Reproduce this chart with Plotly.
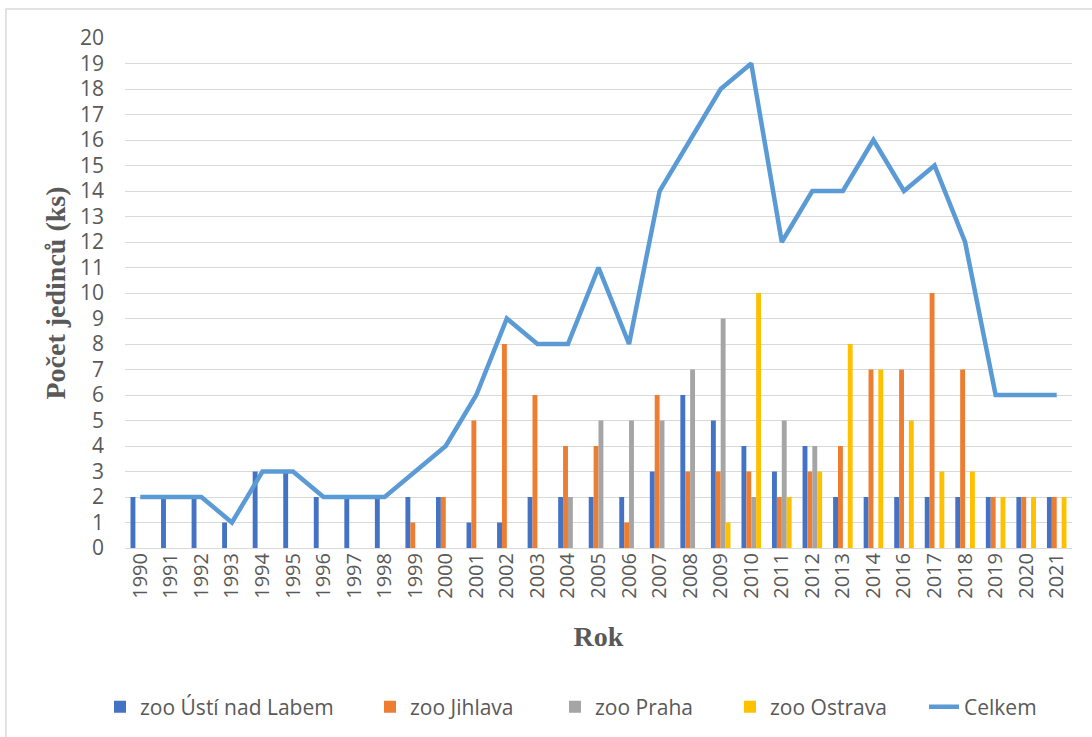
import plotly.graph_objects as go

years = ["1990", "1991", "1992", "1993", "1994", "1995", "1996", "1997", "1998", "1999",
         "2000", "2001", "2002", "2003", "2004", "2005", "2006", "2007", "2008", "2009",
         "2010", "2011", "2012", "2013", "2014", "2016", "2017", "2018", "2019", "2020", "2021"]

usti =    [2, 2, 2, 1, 3, 3, 2, 2, 2, 2, 2, 1, 1, 2, 2, 2, 2, 3, 6, 5, 4, 3, 4, 2, 2, 2, 2, 2, 2, 2, 2]
jihlava = [0, 0, 0, 0, 0, 0, 0, 0, 0, 1, 2, 5, 8, 6, 4, 4, 1, 6, 3, 3, 3, 2, 3, 4, 7, 7, 10, 7, 2, 2, 2]
praha =   [0, 0, 0, 0, 0, 0, 0, 0, 0, 0, 0, 0, 0, 0, 2, 5, 5, 5, 7, 9, 2, 5, 4, 0, 0, 0, 0, 0, 0, 0, 0]
ostrava = [0, 0, 0, 0, 0, 0, 0, 0, 0, 0, 0, 0, 0, 0, 0, 0, 0, 0, 0, 1, 10, 2, 3, 8, 7, 5, 3, 3, 2, 2, 2]
celkem =  [2, 2, 2, 1, 3, 3, 2, 2, 2, 3, 4, 6, 9, 8, 8, 11, 8, 14, 16, 18, 19, 12, 14, 14, 16, 14, 15, 12, 6, 6, 6]

series_names = ["zoo Ústí nad Labem", "zoo Jihlava", "zoo Praha", "zoo Ostrava"]
series_values = [usti, jihlava, praha, ostrava]
series_colors = ["#4472C4", "#ED7D31", "#A5A5A5", "#FFC000"]

W, H = 1092, 737
L, R, T, B = 125, 20, 38, 189
pw, ph = W - L - R, H - T - B


def px(x):
    return (x - L) / pw


def py(y):
    return (H - B - y) / ph


legend_ids = ["legend", "legend2", "legend3", "legend4", "legend5"]
legend_text_x = [140, 410, 595, 770, 964]

fig = go.Figure()
for i, (name, vals, col) in enumerate(zip(series_names, series_values, series_colors)):
    fig.add_trace(go.Bar(x=years, y=vals, name=name, legend=legend_ids[i],
                         marker=dict(color=col, line=dict(width=0))))

fig.add_trace(go.Scatter(x=years, y=celkem, name="Celkem", mode="lines", legend=legend_ids[4],
                         line=dict(color="#5B9BD5", width=4.5)))

legend_layout = {}
for lid, tx in zip(legend_ids, legend_text_x):
    legend_layout[lid] = dict(orientation="h", x=px(tx - 40), xanchor="left", y=py(707), yanchor="middle",
                              font=dict(family="Open Sans", size=21, color="#595959"),
                              bgcolor="rgba(0,0,0,0)", itemwidth=30)

fig.update_layout(
    width=W, height=H,
    margin=dict(l=L, r=R, t=T, b=B, autoexpand=False),
    paper_bgcolor="white", plot_bgcolor="white",
    barmode="group", bargap=0.36, bargroupgap=0,
    font=dict(family="Open Sans", color="#595959"),
    showlegend=True,
    xaxis=dict(
        type="category", tickangle=-90, showgrid=False, showline=False, zeroline=False,
        tickfont=dict(family="Open Sans", size=20, color="#595959"),
        title=dict(text="<b>Rok</b>", font=dict(family="Liberation Serif", size=28, color="#595959"),
                   standoff=28),
        range=[-0.5, len(years) - 0.5],
    ),
    yaxis=dict(
        range=[0, 20], dtick=1, tick0=0, showgrid=True, gridcolor="#D9D9D9", gridwidth=1.2,
        zeroline=True, zerolinecolor="#D9D9D9", zerolinewidth=1.2, showline=False,
        tickfont=dict(family="Open Sans", size=21, color="#595959"),
        ticklabelstandoff=20,
        title=dict(text="<b>Počet jedinců (ks)</b>", font=dict(family="Liberation Serif", size=28, color="#595959"),
                   standoff=6),
    ),
    shapes=[dict(type="rect", xref="paper", yref="paper",
                 x0=px(6), x1=px(1100), y0=py(745), y1=py(9),
                 line=dict(color="#D9D9D9", width=1.5), fillcolor="rgba(0,0,0,0)", layer="below")],
    **legend_layout,
)

fig.write_html("out.html", config={"displayModeBar": False},
               post_script="document.body.style.margin='0';")
